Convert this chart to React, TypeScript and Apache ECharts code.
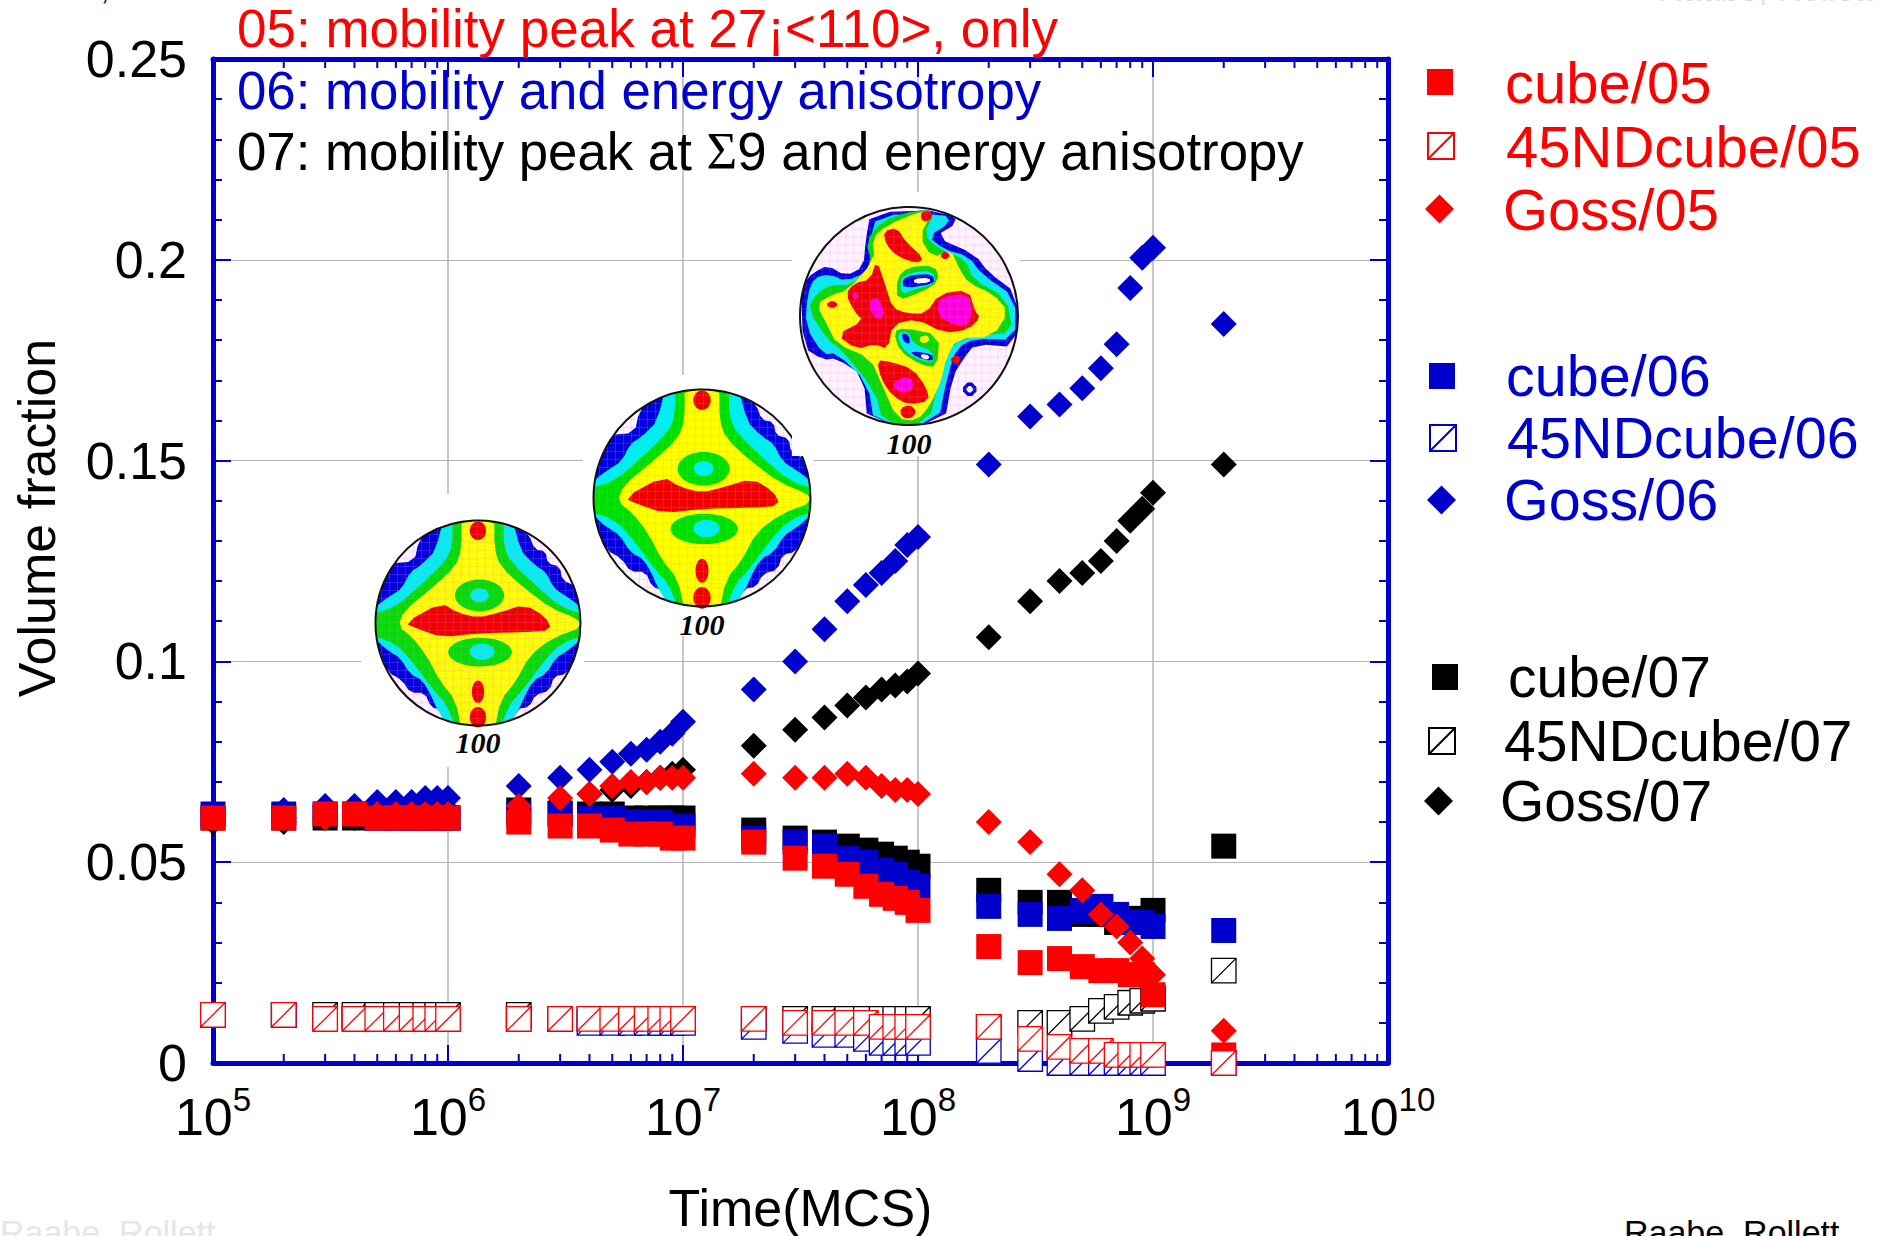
import React, { useEffect, useRef } from "react";
import * as echarts from "echarts";

const TIMES = [1e5,2e5,3e5,4e5,5e5,6e5,7e5,8e5,9e5,1e6,2e6,3e6,4e6,5e6,6e6,7e6,8e6,9e6,1e7,2e7,3e7,4e7,5e7,6e7,7e7,8e7,9e7,1e8,2e8,3e8,4e8,5e8,6e8,7e8,8e8,9e8,1e9,2e9];
const MINOR_TIMES = [2,3,4,5,6,7,8,9].flatMap((m) => [1e5,1e6,1e7,1e8,1e9].map((d) => m * d));
const X_EXPONENT_TICKS = [5,6,7,8,9,10];

const cube07 = [.061,.061,.061,.061,.061,.061,.061,.061,.061,.061,.063,.062,.062,.062,.061,.061,.061,.061,.061,.058,.056,.055,.054,.053,.052,.051,.050,.049,.043,.040,.040,.037,.037,.035,.036,.036,.038,.054];
const nd07 = [.012,.012,.012,.012,.012,.012,.012,.012,.012,.012,.012,.011,.011,.011,.011,.011,.011,.011,.011,.011,.011,.011,.011,.011,.011,.011,.011,.011,.009,.010,.010,.011,.013,.014,.015,.0155,.016,.023];
const goss07 = [.060,.060,.061,.061,.062,.062,.062,.062,.063,.063,.063,.065,.067,.068,.069,.070,.071,.072,.073,.079,.083,.086,.089,.091,.093,.094,.095,.097,.106,.115,.120,.122,.125,.130,.135,.138,.142,.149];
const cube06 = [.062,.062,.062,.062,.061,.061,.061,.061,.061,.061,.062,.062,.061,.061,.060,.060,.060,.059,.059,.056,.055,.054,.051,.050,.048,.047,.045,.044,.039,.037,.036,.038,.039,.037,.035,.035,.034,.033];
const nd06 = [.012,.012,.011,.011,.011,.011,.011,.011,.011,.011,.011,.011,.010,.010,.010,.010,.010,.010,.010,.009,.008,.007,.007,.006,.005,.005,.005,.005,.003,.001,0,0,0,0,0,0,0,0];
const goss06 = [.062,.063,.064,.064,.065,.065,.065,.066,.066,.066,.069,.071,.073,.075,.077,.078,.080,.082,.085,.093,.100,.108,.115,.119,.122,.125,.129,.131,.149,.161,.164,.168,.173,.179,.193,.2005,.203,.184];
const cube05 = [.061,.061,.062,.062,.061,.061,.061,.061,.061,.061,.060,.059,.059,.058,.057,.057,.057,.056,.056,.055,.051,.049,.047,.044,.042,.041,.040,.038,.029,.025,.026,.024,.023,.023,.022,.022,.017,.002];
const nd05 = [.012,.012,.011,.011,.011,.011,.011,.011,.011,.011,.011,.011,.011,.011,.011,.011,.011,.011,.011,.011,.010,.010,.010,.010,.009,.009,.009,.009,.009,.006,.004,.003,.003,.002,.002,.002,.002,0];
const goss05 = [.061,.061,.061,.062,.062,.062,.062,.062,.062,.062,.064,.066,.067,.069,.070,.070,.071,.071,.071,.072,.071,.071,.072,.071,.069,.068,.068,.067,.060,.055,.047,.043,.037,.034,.030,.026,.022,.008];

const RED = "#ff0000";
const BLUE = "#0000cc";
const BLACK = "#000000";
const HOLLOW = "path://M0 0H24V24H0Z M0 24L24 0";
const FONT = "Liberation Sans";

const SERIES_DEFS: [string, number[], string, string][] = [
  ["cube/07", cube07, BLACK, "rect"],
  ["45NDcube/07", nd07, BLACK, HOLLOW],
  ["Goss/07", goss07, BLACK, "diamond"],
  ["cube/06", cube06, BLUE, "rect"],
  ["45NDcube/06", nd06, BLUE, HOLLOW],
  ["Goss/06", goss06, BLUE, "diamond"],
  ["cube/05", cube05, RED, "rect"],
  ["45NDcube/05", nd05, RED, HOLLOW],
  ["Goss/05", goss05, RED, "diamond"],
];

// name, colour, symbol left, symbol centre y, text left, font size, symbol size
const LEGEND_ROWS: [string, string, number, number, number, number, number][] = [
  ["cube/05", RED, 1427, 82, 1505, 58, 26],
  ["45NDcube/05", RED, 1427, 146, 1505, 58, 26],
  ["Goss/05", RED, 1425, 209, 1503, 58, 29],
  ["cube/06", BLUE, 1429, 376, 1506, 57.5, 26],
  ["45NDcube/06", BLUE, 1429, 438, 1506, 57.5, 26],
  ["Goss/06", BLUE, 1427, 500, 1504, 57.5, 29],
  ["cube/07", BLACK, 1432, 677, 1508, 57, 26],
  ["45NDcube/07", BLACK, 1428, 741, 1503, 57, 26],
  ["Goss/07", BLACK, 1424, 801, 1500, 57, 29],
];

type P = [number, number];
const mirror = (right: P[]): P[] => [...right, ...right.slice().reverse().map(([x, y]) => [-x, y] as P)];
const BAND_BLUE: P[] = [[.34,-1.05],[.42,-.9],[.5,-.86],[.55,-.72],[.66,-.7],[.68,-.58],[.8,-.55],[.82,-.42],[.95,-.36],[1.05,-.25],[1.1,0],[1.05,.2],[.92,.38],[.86,.5],[.74,.52],[.7,.66],[.56,.7],[.5,.82],[.38,.84],[.3,1.05],[-.3,1.05],[-.36,.85],[-.46,.82],[-.52,.68],[-.66,.68],[-.74,.56],[-.88,.48],[-.95,.3],[-1.05,.2],[-1.1,0],[-1,-.25],[-.92,-.42],[-.86,-.58],[-.62,-.6],[-.58,-.8],[-.45,-.95],[-.3,-1.1]];
const BAND_CYAN: P[] = mirror([[.36,-1.05],[.4,-.72],[.56,-.56],[.66,-.5],[.74,-.34],[.86,-.26],[1.05,-.14],[1.05,.14],[.86,.28],[.76,.34],[.66,.5],[.54,.56],[.44,.74],[.32,1.05]]);
const BAND_GREEN: P[] = mirror([[.25,-1.05],[.25,-.75],[.32,-.6],[.55,-.38],[.8,-.16],[1.05,-.08],[1.05,.12],[.8,.2],[.62,.4],[.44,.65],[.3,.8],[.22,1.05]]);
const BAND_YELLOW: P[] = [[.16,-1.05],[.16,-.72],[.22,-.55],[.45,-.34],[.72,-.14],[.95,-.05],[1.04,.03],[.72,.15],[.5,.32],[.37,.57],[.22,.75],[.16,1.05],[-.16,1.05],[-.22,.75],[-.37,.57],[-.5,.32],[-.64,.14],[-.78,.03],[-.72,-.12],[-.45,-.34],[-.22,-.55],[-.16,-.72],[-.16,-1.05]];
const BAND_RED: P[] = [[-.72,.0],[-.36,-.2],[-.2,-.1],[0,-.05],[.2,-.1],[.46,-.18],[.66,-.06],[.72,.07],[.45,.09],[0,.1],[-.35,.14],[-.58,.06]];

const PF3: [string, number[][]][] = [
  ["#0000dd", [[1166,62],[1340,55],[1362,90],[1310,130],[1400,180],[1430,230],[1495,290],[1495,440],[1400,430],[1375,470],[1350,520],[1330,660],[1160,660],[1150,520],[1090,470],[1060,475],[1015,440],[1010,260],[1040,230],[1070,210],[1110,240],[1150,215],[1155,140]]],
  ["#00eeee", [[1180,70],[1330,65],[1345,90],[1295,130],[1330,165],[1385,185],[1415,235],[1490,300],[1490,420],[1400,415],[1360,440],[1340,510],[1315,660],[1175,660],[1160,540],[1090,455],[1060,460],[1020,380],[1025,290],[1040,245],[1075,235],[1110,255],[1165,225],[1165,140]]],
  ["#00dd00", [[1190,85],[1270,55],[1310,60],[1285,125],[1320,165],[1380,195],[1395,250],[1470,300],[1485,400],[1410,405],[1345,430],[1320,530],[1295,655],[1195,655],[1175,560],[1100,445],[1070,420],[1025,330],[1045,290],[1075,265],[1125,265],[1170,205],[1155,145]]],
  ["#ffff00", [[1200,100],[1275,60],[1305,60],[1275,130],[1305,190],[1345,165],[1365,220],[1385,260],[1440,290],[1475,340],[1440,410],[1360,415],[1335,470],[1325,530],[1300,600],[1270,645],[1225,640],[1190,540],[1165,470],[1090,430],[1070,380],[1045,320],[1075,295],[1115,280],[1175,195],[1170,135]]],
  ["#ee0000", [[1195,115],[1225,105],[1245,145],[1285,190],[1270,205],[1225,185],[1200,150]]],
  ["#ee0000", [[1180,195],[1200,270],[1215,330],[1250,345],[1290,345],[1320,290],[1385,278],[1400,340],[1412,355],[1385,390],[1330,400],[1270,360],[1215,375],[1205,445],[1175,430],[1135,445],[1090,405],[1150,365],[1130,340],[1110,290],[1130,260],[1165,250]]],
  ["#ee0000", [[1180,475],[1210,480],[1260,500],[1290,550],[1298,590],[1250,600],[1215,575],[1190,530]]],
  ["#ee0000", [[1232,610],[1255,600],[1270,620],[1255,640],[1235,635]]],
  ["#ee0000", [[1280,60],[1300,58],[1305,75],[1290,90],[1278,80]]],
  ["#ee0000", [[1065,320],[1080,308],[1095,320],[1080,332]]],
  ["#ee0000", [[1320,183],[1333,170],[1345,183],[1333,196]]],
  ["#ee0000", [[1343,475],[1357,460],[1371,475],[1357,490]]],
  ["#ff00dd", [[1320,300],[1385,288],[1395,340],[1380,385],[1330,365],[1315,340]]],
  ["#ff00dd", [[1165,305],[1185,300],[1197,345],[1185,365],[1165,340]]],
  ["#ff00dd", [[1225,530],[1255,520],[1265,555],[1235,570],[1215,550]]],
  ["#ff00dd", [[1125,292],[1135,285],[1140,300],[1130,308]]],
  ["#00dd00", [[1225,245],[1250,215],[1310,210],[1320,255],[1280,285],[1225,310]]],
  ["#00eeee", [[1232,250],[1255,230],[1305,225],[1312,260],[1260,280],[1235,290]]],
  ["#0000dd", [[1237,250],[1258,237],[1305,235],[1310,262],[1240,275]]],
  ["#ffffff", [[1262,248],[1298,245],[1300,258],[1265,262]]],
  ["#00dd00", [[1218,395],[1240,385],[1320,405],[1315,495],[1280,490],[1230,450]]],
  ["#00eeee", [[1225,400],[1250,395],[1262,430],[1305,450],[1305,485],[1265,470],[1235,440]]],
  ["#0000dd", [[1235,400],[1252,405],[1255,430],[1240,425]]],
  ["#0000dd", [[1255,450],[1305,458],[1305,480],[1265,465]]],
  ["#ffffff", [[1278,458],[1298,462],[1295,475],[1280,470]]],
  ["#ffff00", [[1275,410],[1295,405],[1298,425],[1278,428]]],
  ["#0000dd", [[1388,532],[1408,557],[1388,582],[1368,557]]],
  ["#ffffff", [[1388,545],[1397,557],[1388,569],[1379,557]]],
];

function chaikin(points: P[], rounds: number): P[] {
  let cur = points;
  for (let k = 0; k < rounds; k++) {
    const next: P[] = [];
    for (let i = 0; i < cur.length; i++) {
      const a = cur[i], b = cur[(i + 1) % cur.length];
      next.push([a[0] * .75 + b[0] * .25, a[1] * .75 + b[1] * .25]);
      next.push([a[0] * .25 + b[0] * .75, a[1] * .25 + b[1] * .75]);
    }
    cur = next;
  }
  return cur;
}

const unitClamp = (points: P[]): P[] => points.map(([x, y]) => {
  const r = Math.hypot(x, y);
  return r > 1 ? [x / r, y / r] as P : [x, y] as P;
});

function poleFigure(cx: number, cy: number, R: number, box: number[], label: string, labelY: number, z: number, complex: boolean) {
  const els: any[] = [];
  const poly = (pts: P[], fill: string, rounds = 3) =>
    els.push({ type: "polygon", z, silent: true, shape: { points: unitClamp(chaikin(pts, rounds)).map(([x, y]) => [cx + x * R, cy + y * R]) }, style: { fill } });
  const ell = (x: number, y: number, rx: number, ry: number, fill: string) =>
    els.push({ type: "ellipse", z, silent: true, shape: { cx: cx + x * R, cy: cy + y * R, rx: rx * R, ry: ry * R }, style: { fill } });
  els.push({ type: "rect", z, silent: true, shape: { x: box[0], y: box[1], width: box[2] - box[0], height: box[3] - box[1] }, style: { fill: "#ffffff" } });
  ell(0, 0, 1, 1, "#fff4ff");
  if (!complex) {
    poly(BAND_BLUE, "#0000dd", 1);
    poly(BAND_CYAN, "#00eeee", 1);
    poly(BAND_GREEN, "#00dd00", 1);
    poly(BAND_YELLOW, "#ffff00", 1);
    ell(.015, -.27, .24, .155, "#00dd00");
    ell(.015, -.27, .09, .07, "#00eeee");
    ell(.02, .285, .31, .14, "#00dd00");
    ell(.04, .28, .12, .08, "#00eeee");
    poly(BAND_RED, "#ee0000", 1);
    ell(0, -.9, .08, .09, "#ee0000");
    ell(0, .67, .06, .11, "#ee0000");
    ell(0, .92, .08, .1, "#ee0000");
  } else {
    for (const [fill, pts] of PF3) {
      poly(pts.map(([h, v]) => [(h - 1252) / 244, (v - 352) / 305] as P), fill, 1);
    }
  }
  for (let d = -R + 6; d < R; d += 8) {
    const half = Math.sqrt(R * R - d * d);
    els.push({ type: "line", z, silent: true, shape: { x1: cx - half, y1: cy + d, x2: cx + half, y2: cy + d }, style: { stroke: "#ff70ff", lineWidth: 1, opacity: .22 } });
    els.push({ type: "line", z, silent: true, shape: { x1: cx + d, y1: cy - half, x2: cx + d, y2: cy + half }, style: { stroke: "#ff70ff", lineWidth: 1, opacity: .22 } });
  }
  els.push({ type: "circle", z, silent: true, shape: { cx, cy, r: R }, style: { fill: "none", stroke: "#111111", lineWidth: 2 } });
  els.push({ type: "text", z, silent: true, x: cx, y: labelY, style: { text: label, fill: "#000", font: `italic bold 30px "Liberation Serif"`, align: "center", verticalAlign: "middle" } });
  return els;
}

const overlayText = (text: string, x: number, y: number, fill: string, size: number, z = 5, font = FONT) => ({
  type: "text", z, silent: true, x, y,
  style: { text, fill, font: `${size}px "${font}"`, verticalAlign: "middle" },
});

export default function App() {
  const ref = useRef<HTMLDivElement>(null);
  useEffect(() => {
    document.body.style.margin = "0";
    const chart = echarts.init(ref.current!, undefined, { renderer: "svg" });
    const axisColor = { color: BLUE, width: 2 };
    const split = { show: true, lineStyle: { color: "#b4b4b4", width: 1.5 } };
    const xBase = {
      type: "log", logBase: 10, min: 1e5, max: 1e10,
      axisLine: { show: true, onZero: false, lineStyle: { color: BLUE, width: 5 } },
      axisTick: { show: true, inside: true, length: 18, lineStyle: axisColor },
      minorTick: { show: false },
    };
    const yBase = {
      type: "value", min: 0, max: .25, interval: .05,
      axisLine: { show: true, onZero: false, lineStyle: { color: BLUE, width: 5 } },
      axisTick: { show: true, inside: true, length: 18, lineStyle: axisColor },
      minorTick: { show: true, splitNumber: 5, length: 9, lineStyle: axisColor },
    };
    const graphics = [
      ...poleFigure(478, 623, 102.5, [361, 494, 584, 767], "100", 742, 1, false),
      ...poleFigure(702, 498, 108.5, [583, 375, 814, 636], "100", 624, 1, false),
      ...poleFigure(909, 316, 109, [792, 192, 1020, 456], "100", 443, 1, true),
      overlayText("05: mobility peak at 27¡<110>, only", 237, 28, RED, 53),
      overlayText("06: mobility and energy anisotropy", 237, 90, BLUE, 52.8),
      {
        type: "text", z: 5, silent: true, x: 237, y: 151,
        style: {
          text: "{a|07: mobility peak at }{s|Σ}{a|9 and energy anisotropy}",
          verticalAlign: "middle",
          rich: {
            a: { fill: BLACK, fontFamily: FONT, fontSize: 52.8 },
            s: { fill: BLACK, fontFamily: "Liberation Serif", fontSize: 52.8 },
          },
        },
      },
      overlayText("Raabe, Rollett", 1658, -11, "#dddddd", 34),
      overlayText("Raabe, Rollett", 0, 1232, "#e6e6e6", 34),
      overlayText("Raabe, Rollett", 1624, 1232, "#000000", 34),
      overlayText("Raabe, Rollett", 0, -13, "#333333", 34),
    ];
    const option: any = {
      animation: false,
      backgroundColor: "#ffffff",
      grid: { left: 213, top: 59, width: 1175, height: 1004, containLabel: false, outerBoundsMode: "none" },
      xAxis: [
        {
          ...xBase, position: "bottom", name: "Time(MCS)", nameLocation: "middle", nameGap: 119,
          nameTextStyle: { color: "#000", fontFamily: FONT, fontSize: 52 },
          splitLine: split,
          axisLabel: {
            show: true, margin: 24, showMinLabel: true, showMaxLabel: true,
            formatter: (v: number) => `{b|10}{s|${X_EXPONENT_TICKS.find((e) => Math.abs(e - Math.log10(v)) < .01)}}`,
            rich: {
              b: { color: "#000", fontFamily: FONT, fontSize: 52, lineHeight: 60 },
              s: { color: "#000", fontFamily: FONT, fontSize: 33, lineHeight: 60, padding: [0, 0, 36, 0] },
            },
          },
        },
        { ...xBase, position: "top", axisLabel: { show: false }, splitLine: { show: false } },
      ],
      yAxis: [
        {
          ...yBase, position: "left", name: "Volume fraction", nameLocation: "middle", nameGap: 150,
          nameTextStyle: { color: "#000", fontFamily: FONT, fontSize: 52, padding: [0, 0, 0, 86] },
          splitLine: { show: true, lineStyle: { color: "#b4b4b4", width: 1 } },
          axisLabel: { show: true, margin: 26, color: "#000", fontFamily: FONT, fontSize: 52 },
        },
        { ...yBase, position: "right", axisLabel: { show: false }, splitLine: { show: false } },
      ],
      legend: LEGEND_ROWS.map(([name, color, left, cy, textLeft, fontSize, symbolSize]) => ({
        show: true, orient: "vertical", selectedMode: false, padding: 0,
        left, top: cy - 33, itemWidth: symbolSize, itemHeight: symbolSize, itemGap: 0,
        data: [{ name }],
        textStyle: { color, fontFamily: FONT, fontSize, lineHeight: 66, padding: [0, 0, 0, textLeft - left - symbolSize - 5] },
      })),
      series: [
        {
          type: "custom", name: "minor x ticks", z: 1, silent: true, clip: false,
          data: MINOR_TIMES.map((t) => [t, 0]),
          encode: { x: 0, y: 1 },
          renderItem: (params: any, api: any) => {
            const x = api.coord([api.value(0), 0])[0];
            const top = params.coordSys.y, bottom = top + params.coordSys.height;
            const style = { stroke: BLUE, lineWidth: 2 };
            return {
              type: "group",
              children: [
                { type: "line", shape: { x1: x, y1: bottom, x2: x, y2: bottom - 9 }, style },
                { type: "line", shape: { x1: x, y1: top, x2: x, y2: top + 9 }, style },
              ],
            };
          },
        },
        ...SERIES_DEFS.map(([name, values, color, symbol]) => {
          const hollow = symbol === HOLLOW;
          return {
            type: "scatter", name, symbol, clip: false, z: 2,
            symbolSize: hollow ? 24.5 : symbol === "rect" ? 25 : 26,
            itemStyle: hollow ? { color: "#ffffff", borderColor: color, borderWidth: 1.3, opacity: 1 } : { color, opacity: 1 },
            data: TIMES.map((t, i) => [t, values[i]]),
          };
        }),
      ],
      graphic: { elements: graphics },
    };
    chart.setOption(option);
    return () => chart.dispose();
  }, []);
  return <div ref={ref} style={{ width: 1881, height: 1236 }} />;
}
